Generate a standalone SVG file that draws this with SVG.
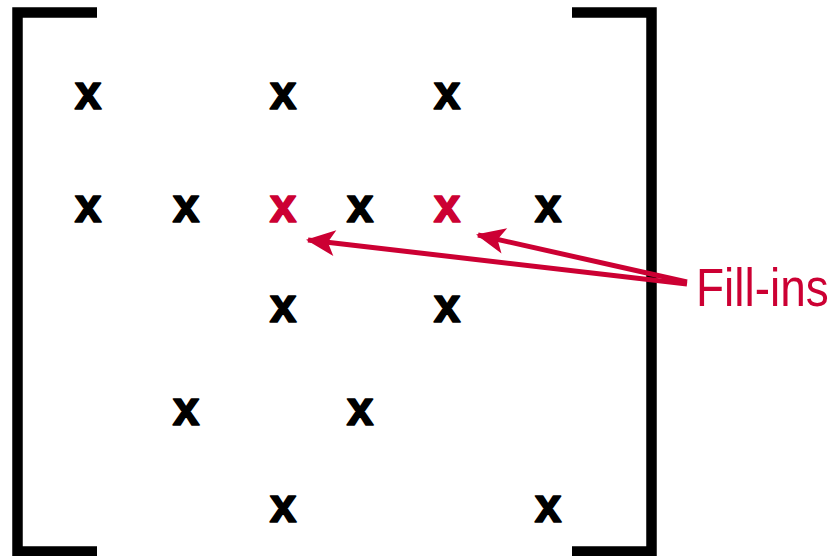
<svg xmlns="http://www.w3.org/2000/svg" width="835" height="556" viewBox="0 0 835 556">
<defs>
<style>
.x{font-family:"Liberation Sans",Arial,sans-serif;font-weight:bold;font-size:48px;text-anchor:middle;fill:#000;stroke:#000;stroke-width:1.6;stroke-linejoin:round}
.r{fill:#cc0033;stroke:#cc0033}
.br{fill:none;stroke:#000;stroke-width:10.5}
.ln{fill:none;stroke:#cc0033;stroke-width:5}
.lbl{font-family:"Liberation Sans",Arial,sans-serif;font-size:46px;fill:#cc0033}
</style>
<marker id="ah" viewBox="0 0 30 30" refX="28" refY="15" markerWidth="30" markerHeight="30" markerUnits="userSpaceOnUse" orient="auto">
<path d="M30,15 L1,2 L8,15 L1,28 Z" fill="#cc0033"/>
</marker>
</defs>
<rect width="835" height="556" fill="#fff"/>
<g id="brackets">
<path class="br" d="M97,12.5 H17.5 V551.5 H97"/>
<path class="br" d="M572,12.5 H651.5 V551.5 H572"/>
</g>
<g id="entries">
<text class="x" x="88" y="109">x</text>
<text class="x" x="283" y="109">x</text>
<text class="x" x="447" y="109">x</text>
<text class="x" x="88" y="222">x</text>
<text class="x" x="186" y="222">x</text>
<text class="x r" x="283" y="222">x</text>
<text class="x" x="360" y="222">x</text>
<text class="x r" x="447" y="222">x</text>
<text class="x" x="548" y="222">x</text>
<text class="x" x="283" y="322">x</text>
<text class="x" x="447" y="322">x</text>
<text class="x" x="186" y="425">x</text>
<text class="x" x="360" y="425">x</text>
<text class="x" x="283" y="522">x</text>
<text class="x" x="548" y="522">x</text>
</g>
<g id="connectors">
<line class="ln" x1="687" y1="284" x2="308" y2="240" marker-end="url(#ah)"/>
<line class="ln" x1="687" y1="282" x2="478" y2="235" marker-end="url(#ah)"/>
</g>
<g id="label">
<text class="lbl" transform="translate(696,306) scale(1,1.15)" x="0" y="0">Fill-ins</text>
</g>
</svg>
